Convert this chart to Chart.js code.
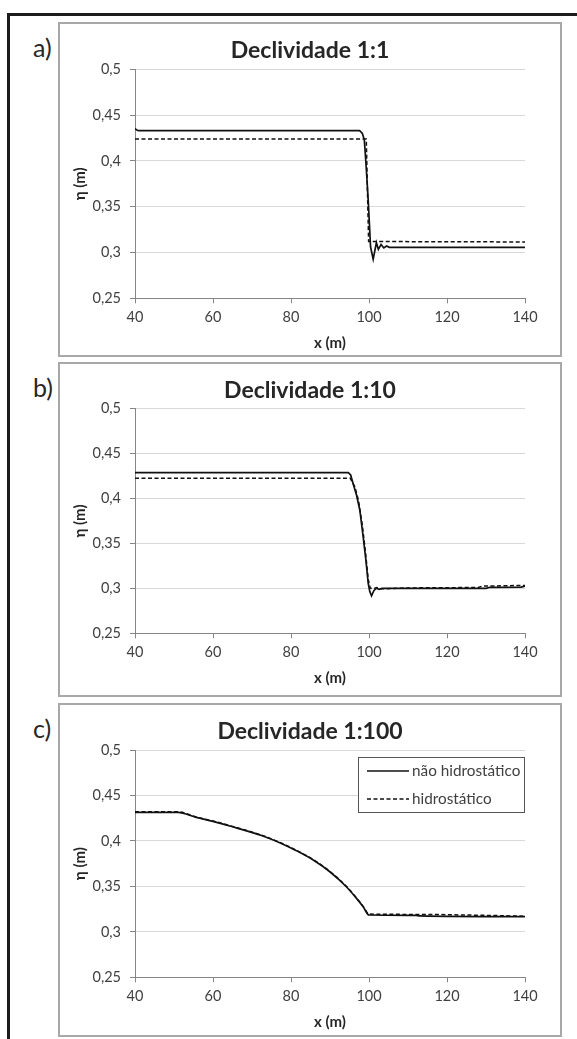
<!DOCTYPE html>
<html>
<head>
<meta charset="utf-8">
<script src="https://cdn.jsdelivr.net/npm/chart.js@4.4.0/dist/chart.umd.min.js"></script>
<style>
  body { margin: 0; background: #fff; width: 577px; height: 1039px; overflow: hidden; position: relative; font-family: Lato, "Open Sans", sans-serif; }
  #frame { position: absolute; left: 7px; top: 13px; right: 0; bottom: 0; border-top: 3px solid #1c1c1c; border-left: 3px solid #1c1c1c; }
  .box { position: absolute; left: 58px; width: 504px; border: 2px solid #a8a8a8; box-sizing: border-box; background: #fff; }
  .box canvas { display: block; }
  .tag { position: absolute; left: 33px; font-size: 25px; line-height: 28px; color: #262626; }
</style>
</head>
<body>
<div id="frame"></div>
<div class="tag" style="top:33px">a)</div>
<div class="tag" style="top:373px">b)</div>
<div class="tag" style="top:714px">c)</div>
<div class="box" style="top:22px;height:335px"><canvas id="chartA" width="500" height="331"></canvas></div>
<div class="box" style="top:362px;height:335px"><canvas id="chartB" width="500" height="331"></canvas></div>
<div class="box" style="top:703px;height:334px"><canvas id="chartC" width="500" height="330"></canvas></div>
<script>
// axis ticks
const xTicks = [40, 60, 80, 100, 120, 140];
const xTickLabels = ["40", "60", "80", "100", "120", "140"];
const yTicks = [0.25, 0.3, 0.35, 0.4, 0.45, 0.5];
const yTickLabels = ["0,25", "0,3", "0,35", "0,4", "0,45", "0,5"];

// a) Declividade 1:1
const xA_nh = [40, 40.6, 41, 97.6, 98.3, 98.8, 99.3, 99.8, 100.4, 101.07, 101.5, 101.9, 102.4, 103.1, 103.8, 104.5, 105.2, 140];
const yA_nh = [0.435, 0.4335, 0.433, 0.433, 0.430, 0.423, 0.392, 0.357, 0.306, 0.2926, 0.302, 0.3107, 0.3034, 0.3088, 0.305, 0.3071, 0.3057, 0.3057];
const xA_h = [40, 99.3, 99.9, 140];
const yA_h = [0.424, 0.424, 0.312, 0.3115];

// b) Declividade 1:10
const xB_nh = [40, 94.7, 95.3, 95.9, 96.8, 97.65, 98.5, 99.2, 99.8, 100.2, 100.65, 101.24, 101.9, 102.6, 103.3, 130, 131, 139, 140];
const yB_nh = [0.4288, 0.4288, 0.4262, 0.417, 0.404, 0.387, 0.3576, 0.3317, 0.3057, 0.2964, 0.2916, 0.2975, 0.3002, 0.299, 0.300, 0.300, 0.3012, 0.3015, 0.3025];
const xB_h = [40, 95.2, 96.36, 97.3, 98.3, 99.1, 99.8, 100.3, 101, 102, 103, 110, 128, 129, 140];
const yB_h = [0.4225, 0.4225, 0.4132, 0.398, 0.370, 0.340, 0.310, 0.3005, 0.2995, 0.301, 0.2995, 0.3005, 0.301, 0.3025, 0.3033];

// c) Declividade 1:100
const xC_nh = [40, 51, 55.7, 60, 64.3, 72.8, 77.1, 81.4, 85.7, 89.95, 94.2, 96.8, 98.5, 100, 112, 113, 140];
const yC_nh = [0.4315, 0.4315, 0.4259, 0.4215, 0.4164, 0.4054, 0.398, 0.3892, 0.379, 0.3661, 0.3496, 0.3368, 0.3276, 0.3185, 0.3182, 0.3175, 0.3167];
const xC_h = [40, 51, 55.7, 60, 64.3, 72.8, 77.1, 81.4, 85.7, 89.95, 94.2, 96.8, 98.5, 100.1, 112, 125, 140];
const yC_h = [0.432, 0.432, 0.4263, 0.4219, 0.4168, 0.4058, 0.3984, 0.3896, 0.3794, 0.3665, 0.35, 0.3372, 0.328, 0.3195, 0.3192, 0.3185, 0.3172];

const seriesNames = ["não hidrostático", "hidrostático"];

const pts = (xs, ys) => xs.map((x, i) => ({ x: x, y: ys[i] }));
const textColor = "#404040";
const fontFamily = "Lato, 'Open Sans', sans-serif";

// legend box drawn inside the plot, top right (only panel c)
const innerLegend = {
    id: "innerLegend",
    afterDraw(chart, args, opts) {
        if (!opts.display) return;
        const ctx = chart.ctx;
        const area = chart.chartArea;
        const w = 167, h = 56;
        const left = area.right - w, top = area.top + 7;
        ctx.save();
        ctx.fillStyle = "#fff";
        ctx.fillRect(left, top, w, h);
        ctx.strokeStyle = "#555";
        ctx.lineWidth = 1;
        ctx.strokeRect(left + 0.5, top + 0.5, w - 1, h - 1);
        ctx.font = "15.3px " + fontFamily;
        ctx.textBaseline = "middle";
        ctx.fillStyle = textColor;
        chart.data.datasets.forEach((ds, i) => {
            const y = top + 14 + i * 28;
            ctx.beginPath();
            ctx.setLineDash(ds.borderDash || []);
            ctx.strokeStyle = ds.borderColor;
            ctx.lineWidth = ds.borderWidth;
            ctx.moveTo(left + 9, y);
            ctx.lineTo(left + 51, y);
            ctx.stroke();
            ctx.setLineDash([]);
            ctx.fillText(ds.label, left + 54, y);
        });
        ctx.restore();
    }
};

function makePanel(id, title, nh, h, layoutBox, withLegend, smooth) {
    const canvas = document.getElementById(id);
    const xHeight = canvas.height - layoutBox.plotBottom;
    return new Chart(canvas, {
        type: "line",
        data: {
            datasets: [
                {
                    label: seriesNames[0],
                    data: nh,
                    borderColor: "#111",
                    borderWidth: 1.7,
                    pointRadius: 0,
                    cubicInterpolationMode: smooth ? "monotone" : "default",
                    tension: 0
                },
                {
                    label: seriesNames[1],
                    data: h,
                    borderColor: "#111",
                    borderWidth: 1.5,
                    borderDash: [4, 2.5],
                    pointRadius: 0,
                    cubicInterpolationMode: smooth ? "monotone" : "default",
                    tension: 0
                }
            ]
        },
        options: {
            responsive: false,
            animation: false,
            layout: { padding: 0 },
            plugins: {
                legend: { display: false },
                tooltip: { enabled: false },
                innerLegend: { display: withLegend },
                title: {
                    display: true,
                    text: title,
                    color: "#262626",
                    font: { family: fontFamily, size: 23, weight: "bold" },
                    padding: { top: 13.2, bottom: layoutBox.plotTop - 13.2 - 27.6 }
                }
            },
            scales: {
                x: {
                    type: "linear",
                    min: 40,
                    max: 140,
                    afterFit: s => { s.height = xHeight; },
                    afterBuildTicks: s => { s.ticks = xTicks.map(v => ({ value: v })); },
                    border: { color: "#868686", width: 1 },
                    grid: { drawOnChartArea: false, tickLength: 5, tickColor: "#868686" },
                    ticks: {
                        callback: (v, i) => xTickLabels[i],
                        color: textColor,
                        padding: 5,
                        maxRotation: 0,
                        font: { family: fontFamily, size: 14.5 }
                    },
                    title: {
                        display: true,
                        text: "x (m)",
                        color: "#262626",
                        font: { family: fontFamily, size: 15, weight: "bold" },
                        padding: { top: 0, bottom: xHeight - 44.5 - 9 }
                    }
                },
                y: {
                    min: 0.25,
                    max: 0.5,
                    afterFit: s => { s.width = 75; },
                    afterBuildTicks: s => { s.ticks = yTicks.map(v => ({ value: v })); },
                    border: { color: "#868686", width: 1 },
                    grid: { color: "#d9d9d9", tickLength: 5, tickColor: "#868686" },
                    ticks: {
                        callback: (v, i) => yTickLabels[i],
                        color: textColor,
                        padding: 9,
                        font: { family: fontFamily, size: 14.5 }
                    },
                    title: {
                        display: true,
                        text: "η (m)",
                        color: "#262626",
                        font: { family: fontFamily, size: 15, weight: "bold" },
                        padding: { top: 11, bottom: 0 }
                    }
                },
                // empty right-hand margin so the title stays centred on the whole box
                yRight: {
                    position: "right",
                    afterFit: s => { s.width = 35; },
                    grid: { display: false },
                    border: { display: false },
                    ticks: { display: false }
                }
            }
        },
        plugins: [innerLegend]
    });
}

makePanel("chartA", "Declividade 1:1", pts(xA_nh, yA_nh), pts(xA_h, yA_h), { plotTop: 45.3, plotBottom: 274.3 }, false, false);
makePanel("chartB", "Declividade 1:10", pts(xB_nh, yB_nh), pts(xB_h, yB_h), { plotTop: 44.7, plotBottom: 269.3 }, false, false);
makePanel("chartC", "Declividade 1:100", pts(xC_nh, yC_nh), pts(xC_h, yC_h), { plotTop: 45, plotBottom: 272.3 }, true, true);
</script>
</body>
</html>
